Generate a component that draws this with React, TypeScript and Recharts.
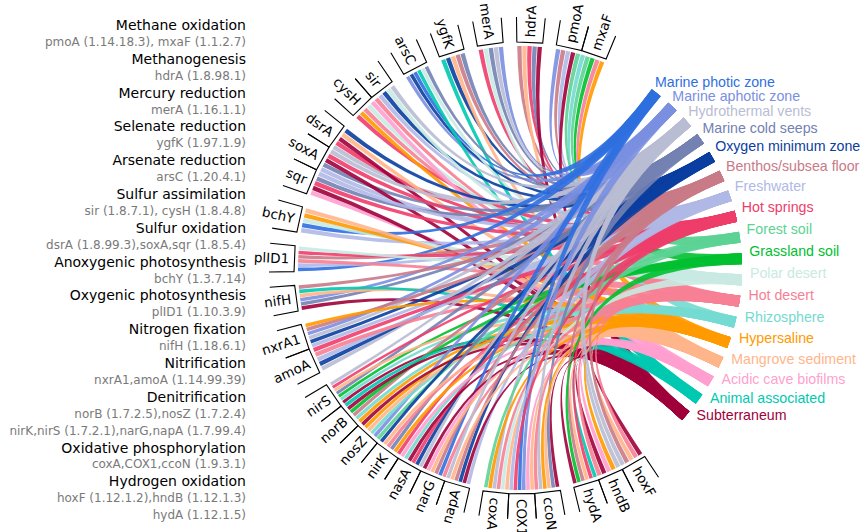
import React from "react";
import { PieChart, Pie, Customized } from "recharts";

// environments, clockwise around the right side
const envNames = [
  "Marine photic zone", "Marine aphotic zone", "Hydrothermal vents", "Marine cold seeps",
  "Oxygen minimum zone", "Benthos/subsea floor", "Freshwater", "Hot springs", "Forest soil",
  "Grassland soil", "Polar desert", "Hot desert", "Rhizosphere", "Hypersaline",
  "Mangrove sediment", "Acidic cave biofilms", "Animal associated", "Subterraneum",
];
const envColors = [
  "#2f6fe0", "#7b8fe0", "#b9bdd3", "#7381b3", "#0a3ea0", "#c97a87", "#b0b8e6", "#ee3d6a", "#5cd393",
  "#00c030", "#c8eae2", "#f77f95", "#73dad0", "#ff9a00", "#ffb58a", "#ff9fcf", "#00c9b1", "#a0003a",
];

// genes, counter-clockwise from the top right
const genes = [
  "mxaF", "pmoA", "hdrA", "merA", "ygfK", "arsC", "sir", "cysH", "dsrA", "soxA", "sqr", "bchY",
  "plID1", "nifH", "nxrA1", "amoA", "nirS", "norB", "nosZ", "nirK", "nasA", "narG", "napA",
  "coxA", "COX1", "ccoN", "hydA", "hndB", "hoxF",
];
const geneGroups = [0, 0, 1, 2, 3, 4, 5, 5, 6, 6, 6, 7, 8, 9, 10, 10, 11, 11, 11, 11, 11, 11, 11, 12, 12, 12, 13, 13, 13];

// environments linked to each gene (clockwise inside its segment)
const geneLinks = [
  [12, 8, 9, 11, 13],
  [1, 5, 6, 17, 8],
  [5, 14, 7, 3, 17],
  [7, 10, 3, 2, 1],
  [16, 4, 14, 5, 3],
  [1, 4, 0, 16, 10, 3],
  [11, 6, 4, 10, 2],
  [7, 13, 11, 10, 15],
  [2, 7, 17, 14, 4],
  [6, 3, 17, 7, 2],
  [15, 17, 7, 3, 6],
  [6, 0, 10, 13, 14],
  [0, 6, 11, 5, 7, 10],
  [17, 3, 1, 14, 16, 5],
  [6, 4, 2, 1, 5, 13],
  [2, 4, 6, 11, 7],
  [17, 12, 9, 3, 14, 7, 2],
  [13, 12, 5, 9, 17, 16],
  [8, 1, 12, 14, 13, 17],
  [7, 13, 3, 11, 14, 4],
  [2, 4, 7, 17, 12, 15],
  [11, 0, 5, 14, 15, 17],
  [6, 17, 4, 5, 14, 2],
  [14, 10, 11, 2, 13, 8],
  [14, 15, 1, 0, 7, 6],
  [17, 3, 14, 13, 2, 11],
  [16, 7, 14, 5, 9, 17],
  [2, 13, 15, 17, 11],
  [17, 11, 14, 5, 2],
];

const processNames = [
  "Methane oxidation", "Methanogenesis", "Mercury reduction", "Selenate reduction",
  "Arsenate reduction", "Sulfur assimilation", "Sulfur oxidation", "Anoxygenic photosynthesis",
  "Oxygenic photosynthesis", "Nitrogen fixation", "Nitrification", "Denitrification",
  "Oxidative phosphorylation", "Hydrogen oxidation",
];
const processGenes = [
  ["pmoA (1.14.18.3), mxaF (1.1.2.7)"],
  ["hdrA (1.8.98.1)"],
  ["merA (1.16.1.1)"],
  ["ygfK (1.97.1.9)"],
  ["arsC (1.20.4.1)"],
  ["sir (1.8.7.1), cysH (1.8.4.8)"],
  ["dsrA (1.8.99.3),soxA,sqr (1.8.5.4)"],
  ["bchY (1.3.7.14)"],
  ["plID1 (1.10.3.9)"],
  ["nifH (1.18.6.1)"],
  ["nxrA1,amoA (1.14.99.39)"],
  ["norB (1.7.2.5),nosZ (1.7.2.4)", "nirK,nirS (1.7.2.1),narG,napA (1.7.99.4)"],
  ["coxA,COX1,ccoN (1.9.3.1)"],
  ["hoxF (1.12.1.2),hndB (1.12.1.3)", "hydA (1.12.1.5)"],
];

const CX = 520;
const CY = 268;
const R = 222;
const RAD = Math.PI / 180;
const GENE_START = 67.6;
const GENE_END = 303.5;
const GROUP_GAP = 0.53;
const ENV_START = 53.6;
const ENV_END = -43.2;
const ENV_GAP = 0.9;

// pie rows, with blank spacer slices between groups
const geneData: any[] = [];
genes.forEach((g, i) => {
  if (i > 0 && geneGroups[i] !== geneGroups[i - 1]) geneData.push({ name: "gap" + i, value: GROUP_GAP, spacer: true });
  geneData.push({ name: g, value: 1, gene: i });
});
const envData: any[] = [];
envNames.forEach((e, i) => {
  if (i > 0) envData.push({ name: "gap" + i, value: ENV_GAP, spacer: true });
  envData.push({ name: e, value: 1, env: i });
});

// same proportional split the Pie does (no padding, no minAngle)
const sliceAngles = (rows: any[], start: number, end: number) => {
  const total = rows.reduce((s, r) => s + r.value, 0);
  let acc = 0;
  return rows.map((r) => {
    const a0 = start + (acc / total) * (end - start);
    acc += r.value;
    return [a0, start + (acc / total) * (end - start)];
  });
};
const envTheta: number[][] = [];
sliceAngles(envData, ENV_START, ENV_END).forEach(([a0, a1], i) => {
  const row = envData[i];
  if (!row.spacer) envTheta[row.env] = [90 - a0, 90 - a1];
});

const polar = (cx: number, cy: number, r: number, th: number) => [cx + r * Math.sin(th * RAD), cy - r * Math.cos(th * RAD)];

const ribbon = (cx: number, cy: number, s0: number, s1: number, t0: number, t1: number) => {
  const [a, b] = polar(cx, cy, R, s0);
  const [c, d] = polar(cx, cy, R, s1);
  const [e, f] = polar(cx, cy, R, t0);
  const [g, h] = polar(cx, cy, R, t1);
  return `M${a},${b}A${R},${R} 0 0 1 ${c},${d}Q${cx},${cy} ${e},${f}A${R},${R} 0 0 1 ${g},${h}Q${cx},${cy} ${a},${b}Z`;
};

const renderGene = (p: any) => {
  const row = p.payload;
  if (!row || row.spacer) return null;
  const { cx, cy } = p;
  const th0 = 90 - p.endAngle;
  const th1 = 90 - p.startAngle;
  const links = geneLinks[row.gene];
  const w = (th1 - th0) / links.length;
  const chords = links.map((env, k) => {
    const s0 = th0 + k * w + w * 0.07;
    const s1 = th0 + (k + 1) * w - w * 0.07;
    const [t0, t1] = envTheta[env];
    return <path key={k} d={ribbon(cx, cy, s0, s1, t0, t1)} fill={envColors[env]} fillOpacity={0.9} />;
  });
  const [x0, y0] = polar(cx, cy, 251, th0);
  const [x1, y1] = polar(cx, cy, 226, th0);
  const [x2, y2] = polar(cx, cy, 226, th1);
  const [x3, y3] = polar(cx, cy, 251, th1);
  const mid = (th0 + th1) / 2;
  const norm = ((mid % 360) + 360) % 360;
  const outward = norm < 192;
  const [tx, ty] = polar(cx, cy, 231, mid);
  const rot = outward ? mid - 90 : mid + 90;
  return (
    <g key={"gene" + row.gene}>
      {chords}
      <path d={`M${x0},${y0}L${x1},${y1}L${x2},${y2}L${x3},${y3}`} fill="none" stroke="#000" strokeWidth={1.1} />
      <text
        x={tx}
        y={ty}
        transform={`rotate(${rot} ${tx} ${ty})`}
        textAnchor={outward ? "start" : "end"}
        dominantBaseline="central"
        fontSize={13.5}
        fontFamily="DejaVu Sans"
        fill="#000"
      >
        {genes[row.gene]}
      </text>
    </g>
  );
};

const renderEnv = (p: any) => {
  const row = p.payload;
  if (!row || row.spacer) return null;
  const th = 90 - p.midAngle;
  const [x, y] = polar(p.cx, p.cy, 230, th - 1.9);
  return (
    <text key={"env" + row.env} x={x} y={y} dominantBaseline="central" fontSize={14.2} fontFamily="Liberation Sans" fill={envColors[row.env]}>
      {row.name}
    </text>
  );
};

const Glow = () => (
  <g>
    <defs>
      <radialGradient id="glow">
        <stop offset="0%" stopColor="#fff" stopOpacity={0.95} />
        <stop offset="100%" stopColor="#fff" stopOpacity={0} />
      </radialGradient>
    </defs>
    <circle cx={500} cy={266} r={48} fill="url(#glow)" />
  </g>
);

const SideText = () => {
  const lines: { text: string; head: boolean }[] = [];
  processNames.forEach((n, i) => {
    lines.push({ text: n, head: true });
    processGenes[i].forEach((g) => lines.push({ text: g, head: false }));
  });
  return (
    <g>
      {lines.map((l, i) => (
        <text
          key={i}
          x={246}
          y={25 + i * 16.9}
          textAnchor="end"
          dominantBaseline="central"
          fontFamily="DejaVu Sans"
          fontSize={l.head ? 14 : 12}
          fill={l.head ? "#000" : "#7a7a7a"}
        >
          {l.text}
        </text>
      ))}
    </g>
  );
};

export default function App() {
  return (
    <div style={{ position: "absolute", left: 0, top: 0, background: "#fff" }}>
      <PieChart width={866} height={532} margin={{ top: 0, right: 0, bottom: 0, left: 0 }}>
        <Customized component={<SideText />} />
        <Pie
          data={geneData}
          dataKey="value"
          nameKey="name"
          cx={CX}
          cy={CY}
          innerRadius={R - 1}
          outerRadius={R}
          startAngle={GENE_START}
          endAngle={GENE_END}
          fill="none"
          stroke="none"
          label={renderGene}
          labelLine={false}
          isAnimationActive={false}
        />
        <Customized component={<Glow />} />
        <Pie
          data={envData}
          dataKey="value"
          nameKey="name"
          cx={CX}
          cy={CY}
          innerRadius={R - 1}
          outerRadius={R}
          startAngle={ENV_START}
          endAngle={ENV_END}
          fill="none"
          stroke="none"
          label={renderEnv}
          labelLine={false}
          isAnimationActive={false}
        />
      </PieChart>
    </div>
  );
}
